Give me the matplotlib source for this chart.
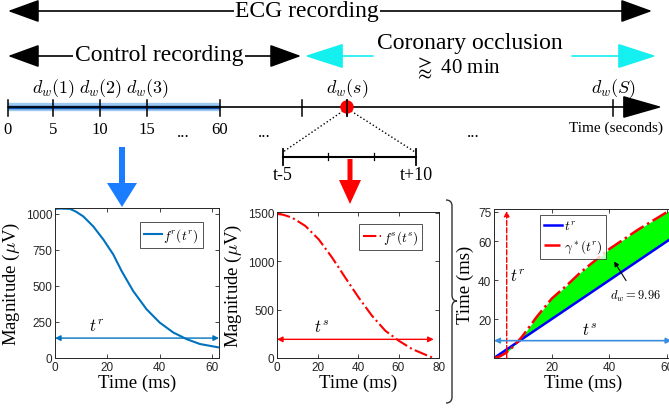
import matplotlib.pyplot as plt
from matplotlib.patches import FancyArrow, PathPatch, Circle
from matplotlib.path import Path

plt.rcParams['font.family'] = ['Liberation Serif', 'DejaVu Serif']
plt.rcParams['mathtext.fontset'] = 'cm'

# reference template f^r(t^r)
tr_ms = [0, 2, 5.7, 8, 10.8, 14.6, 18.5, 22.3, 25.5, 29.9, 35, 40, 45.2, 50.3, 55.4, 62.4]
fr_uv = [1034, 1036, 1034, 1015, 982, 913, 821, 717, 602, 464, 338, 246, 177, 131, 97, 74]

# test beat f^s(t^s)
ts_ms = [0, 3, 7.4, 14, 20.6, 27.2, 33.7, 40.3, 46.9, 53.5, 60.1, 66.7, 73.3, 76.5]
fs_uv = [1490, 1482, 1452, 1366, 1227, 1039, 832, 626, 437, 282, 179, 93, 34, 7]

# warping path gamma*(t^r) against identity t^r
warp_x = [0, 2, 4, 6, 8, 10, 12, 15, 20, 25, 30, 35, 40, 45, 50, 55, 60, 62]
warp_y = [0, 0.8, 2.5, 5, 8, 11.5, 15.5, 21.5, 30.5, 37, 44, 50, 56, 61, 66, 70.5, 75, 77]
tr_ident = warp_x
dw_value = 9.96

# timeline labels
tl_ticks = ['0', '5', '10', '15', '...', '60', '...', '...']
tl_dw = [r'$d_w(1)$', r'$d_w(2)$', r'$d_w(3)$', r'$d_w(s)$', r'$d_w(S)$']

MBLUE = '#0072BD'
GRAY = '#262626'

fig = plt.figure(figsize=(6.69, 4.10), dpi=100)


def style(ax):
    ax.tick_params(direction='in', top=True, right=True, length=3, width=0.6,
                   labelsize=8.5, colors=GRAY, pad=2)
    for lab in ax.get_xticklabels() + ax.get_yticklabels():
        lab.set_family('Liberation Sans')
    for s in ax.spines.values():
        s.set_color(GRAY)
        s.set_linewidth(0.7)


def small_legend(ax, **kw):
    leg = ax.legend(fontsize=9.5, handlelength=1.4, handletextpad=0.1, fancybox=False,
                    edgecolor=GRAY, borderpad=0.3, borderaxespad=0, **kw)
    leg.get_frame().set_linewidth(0.7)


# --- panel 1
ax1 = fig.add_axes([55/669, 1-359/410, 164/669, 150/410])
ax1.plot(tr_ms, fr_uv, color=MBLUE, lw=1.5, label=r'$f^r(t^r)$')
ax1.set_xlim(0, 62.7)
ax1.set_ylim(0, 1040)
ax1.set_xticks([0, 20, 40, 60])
ax1.set_yticks([0, 250, 500, 750, 1000])
ax1.annotate('', xy=(0, 138), xytext=(62.7, 138),
             arrowprops=dict(arrowstyle='<|-|>', color=MBLUE, lw=1, mutation_scale=8,
                             shrinkA=0, shrinkB=0))
ax1.text(16, 165, r'$t^r$', fontsize=12, ha='center', va='bottom')
ax1.set_xlabel('Time (ms)', fontsize=13.5, labelpad=1)
ax1.set_ylabel(r'Magnitude ($\mu$V)', fontsize=13.5, labelpad=3)
small_legend(ax1, loc='upper right', bbox_to_anchor=(0.90, 0.907))
style(ax1)

# --- panel 2
ax2 = fig.add_axes([277/669, 1-359/410, 162/669, 146/410])
ax2.plot(ts_ms, fs_uv, color='red', lw=1.5, ls='-.', label=r'$f^s(t^s)$')
ax2.set_xlim(0, 80)
ax2.set_ylim(0, 1510)
ax2.set_xticks([0, 20, 40, 60, 80])
ax2.set_yticks([0, 500, 1000, 1500])
ax2.annotate('', xy=(0, 193), xytext=(77.4, 193),
             arrowprops=dict(arrowstyle='<|-|>', color='red', lw=1, mutation_scale=8,
                             shrinkA=0, shrinkB=0))
ax2.text(22, 235, r'$t^s$', fontsize=12, ha='center', va='bottom')
ax2.set_xlabel('Time (ms)', fontsize=13.5, labelpad=1)
ax2.set_ylabel(r'Magnitude ($\mu$V)', fontsize=13.5, labelpad=3)
small_legend(ax2, loc='upper right', bbox_to_anchor=(0.895, 0.918))
style(ax2)

# --- panel 3
ax3 = fig.add_axes([494/669, 1-359/410, 179/669, 149/410])
ax3.fill_between(warp_x, tr_ident, warp_y, color='#00FF00', lw=0)
ax3.plot(warp_x, tr_ident, color='blue', lw=1.8, label=r'$t^r$')
ax3.plot(warp_x, warp_y, color='red', lw=1.8, ls='-.', label=r'$\gamma^*(t^r)$')
ax3.set_xlim(0, 62)
ax3.set_ylim(0, 76.5)
ax3.set_xticks([20, 40, 60])
ax3.set_yticks([20, 40, 60, 75])
ax3.annotate('', xy=(4.4, 75.5), xytext=(4.4, 0),
             arrowprops=dict(arrowstyle='-|>', color='red', lw=1, ls='--', mutation_scale=8,
                             shrinkA=0, shrinkB=0))
ax3.text(5.6, 42, r'$t^r$', fontsize=12, ha='left', va='center')
ax3.annotate('', xy=(0, 8.9), xytext=(61.5, 8.9),
             arrowprops=dict(arrowstyle='<|-|>', color='#3b8ede', lw=1.2, mutation_scale=8,
                             shrinkA=0, shrinkB=0))
ax3.text(33, 10.5, r'$t^s$', fontsize=12, ha='center', va='bottom')
ax3.annotate(r'$d_w = %.2f$' % dw_value, xy=(41.6, 49.6), xytext=(49, 32),
             fontsize=9, ha='center', va='center',
             arrowprops=dict(arrowstyle='-|>', color='black', lw=0.8, mutation_scale=7,
                             shrinkA=4, shrinkB=0))
ax3.set_xlabel('Time (ms)', fontsize=13.5, labelpad=1)
ax3.set_ylabel('Time (ms)', fontsize=13.5, labelpad=3)
small_legend(ax3, loc='upper left', bbox_to_anchor=(0.257, 0.96), labelspacing=0.35)
style(ax3)

# --- overlay in pixel coordinates
ov = fig.add_axes([0, 0, 1, 1], facecolor='none')
ov.set_xlim(0, 669)
ov.set_ylim(410, 0)
ov.axis('off')

big = dict(arrowstyle='<|-|>,head_length=1.1,head_width=0.4', color='black', lw=1.2,
           mutation_scale=18, shrinkA=0, shrinkB=0)
ov.annotate('', xy=(8, 12), xytext=(652, 12), arrowprops=big)
ov.text(307, 12, 'ECG recording', fontsize=17, ha='center', va='center',
        bbox=dict(fc='white', ec='none', pad=1))
ov.annotate('', xy=(8, 57), xytext=(301, 57), arrowprops=big)
ov.text(159, 56, 'Control recording', fontsize=17, ha='center', va='center',
        bbox=dict(fc='white', ec='none', pad=1))
cy = dict(arrowstyle='-|>,head_length=1.3,head_width=0.42', color='#14F0F0', lw=1.2,
          mutation_scale=19, shrinkA=0, shrinkB=0)
ov.annotate('', xy=(305, 57), xytext=(373, 57), arrowprops=cy)
ov.annotate('', xy=(656, 57), xytext=(572, 57), arrowprops=cy)
ov.text(470, 44, 'Coronary occlusion', fontsize=17, ha='center', va='center')
ov.text(458, 68, r'$\gtrapprox$ 40 min', fontsize=15, ha='center', va='center')

# main timeline
ov.annotate('', xy=(662, 108), xytext=(8, 108),
            arrowprops=dict(arrowstyle='-|>,head_length=1.4,head_width=0.4', color='black',
                            lw=1.2, mutation_scale=18, shrinkA=0, shrinkB=0))
ov.plot([8, 220], [108, 108], color='#9ec9f0', lw=6, solid_capstyle='butt')
ov.plot([8, 220], [108, 108], color='#0b4fa8', lw=2.5, solid_capstyle='butt')
tick_x = [8, 53, 100, 147, 220, 302, 347, 613]
for x in tick_x:
    ov.plot([x, x], [101, 117], color='black', lw=1.1)
lab_x = [8, 53, 100, 147, 183, 220, 264, 473]
for x, t in zip(lab_x, tl_ticks):
    ov.text(x, 130 if t != '...' else 133, t, fontsize=12, ha='center', va='center')
ov.text(616, 128, 'Time (seconds)', fontsize=11, ha='center', va='center')
for x, t in zip([53, 100, 147, 347, 613], tl_dw):
    ov.text(x, 89, t, fontsize=13, ha='center', va='center')
ov.add_patch(Circle((347, 108), 6, color='red', zorder=3))
ov.plot([347, 347], [101, 117], color='black', lw=1.1, zorder=4)

# zoom window
ov.plot([343, 283], [112, 153], color='black', lw=1, ls=':')
ov.plot([351, 415], [112, 153], color='black', lw=1, ls=':')
ov.plot([283, 416], [158, 158], color='black', lw=1.5)
for x in [283, 416]:
    ov.plot([x, x], [150, 166], color='black', lw=1.3)
for x in [328, 374]:
    ov.plot([x, x], [154, 161], color='black', lw=0.9)
ov.text(283, 176, 't-5', fontsize=13, ha='center', va='center')
ov.text(416, 176, 't+10', fontsize=13, ha='center', va='center')

# arrows down to panels
ov.add_patch(FancyArrow(122, 148, 0, 60, width=6, head_width=30, head_length=24,
                        length_includes_head=True, color='#1a7cff', lw=0))
ov.add_patch(FancyArrow(350, 160, 0, 45, width=5, head_width=22, head_length=24,
                        length_includes_head=True, color='red', lw=0))

# brace
verts = [(446, 201), (452, 201), (452, 207), (452, 296), (452, 302), (457, 302),
         (452, 302), (452, 308), (452, 398), (452, 404), (446, 404)]
codes = [Path.MOVETO, Path.CURVE3, Path.CURVE3, Path.LINETO, Path.CURVE3, Path.CURVE3,
         Path.CURVE3, Path.CURVE3, Path.LINETO, Path.CURVE3, Path.CURVE3]
ov.add_patch(PathPatch(Path(verts, codes), fc='none', ec='#333333', lw=1))

fig.savefig('out.png', dpi=100)
